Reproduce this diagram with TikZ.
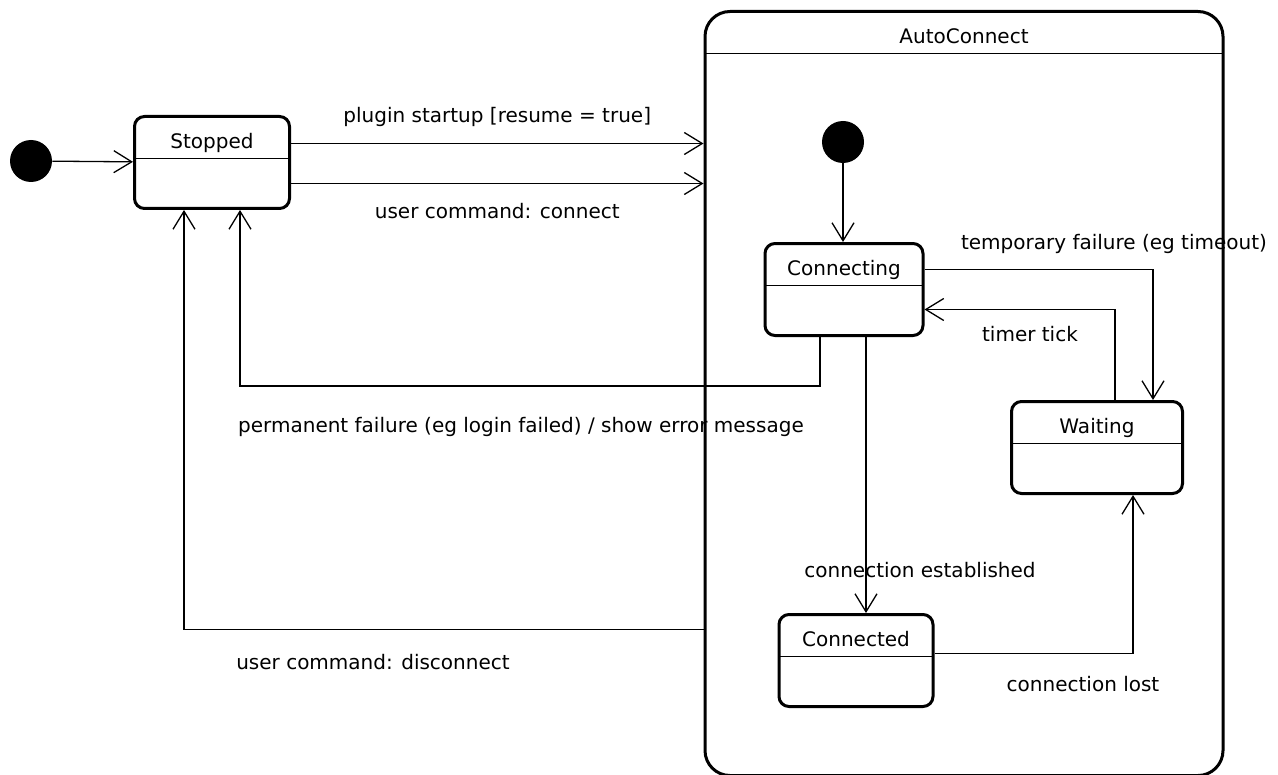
\documentclass[tikz,border=0pt]{standalone}
\usepackage{fontspec}
\setmainfont{DejaVu Sans}
\usetikzlibrary{arrows.meta}

\begin{document}
\begin{tikzpicture}[x=0.5pt, y=-0.5pt, font=\fontsize{10}{12}\selectfont,
  >={Straight Barb[length=9pt, width=11pt]},
  main/.style = {draw, line width=1.5pt, rounded corners=5pt, anchor=north, inner sep=0pt,
    minimum height=46pt, text height=16pt, text depth=30pt,
    path picture={\draw[line width=0.7pt] ([yshift=-21pt]path picture bounding box.north west) -- ([yshift=-21pt]path picture bounding box.north east);}},
  start/.style = {circle, fill, inner sep=0pt, minimum size=21pt},
  trans/.style = {->, line width=0.65pt}]
\useasboundingbox (0,0) rectangle (1278,775);
\node[start] (init) at (31,161) {};
\node[main, minimum width=77.5pt] (stopped) at (212,115) {Stopped};
\node[main, minimum width=259pt, minimum height=382pt, text depth=366pt, rounded corners=12.5pt] (auto) at (964,10) {AutoConnect};
\node[start] (init2) at (843,142) {};
\node[main, minimum width=79pt] (connecting) at (844,242) {Connecting};
\node[main, minimum width=85.5pt] (waiting) at (1097,400) {Waiting};
\node[main, minimum width=77pt] (connected) at (856,613) {Connected};
\draw[trans] (init) -- (stopped);
\draw[trans] ([yshift=9.5pt]stopped.east) -- ([yshift=9.5pt]stopped.east -| auto.west) node[midway, yshift=13.5pt] {plugin startup [resume = true]};
\draw[trans] ([yshift=-10.5pt]stopped.east) -- ([yshift=-10.5pt]stopped.east -| auto.west) node[midway, yshift=-14pt] {user command: connect};
\draw[trans] (init2) -- (init2 |- connecting.north);
\draw[trans] ([yshift=10pt]connecting.east) -| ([xshift=28pt]waiting.north) node[pos=0.5, xshift=-19.5pt, yshift=13pt] {temporary failure (eg timeout)};
\draw[trans] ([xshift=9pt]waiting.north) |- ([yshift=-10pt]connecting.east) node[pos=0.5, xshift=-42.5pt, yshift=-12.5pt] {timer tick};
\draw[trans] ([xshift=-12pt]connecting.south) -- ++(0,49) -| ([xshift=14pt]stopped.south) node[pos=0.25, xshift=-4.5pt, yshift=-20.5pt] {permanent failure (eg login failed) / show error message};
\draw[trans] ([xshift=11pt]connecting.south) -- ([xshift=11pt]connecting.south |- connected.north) node[pos=0.846, xshift=27pt] {connection established};
\draw[trans] ([yshift=3.5pt]connected.east) -| ([xshift=18pt]waiting.south) node[pos=0.5, xshift=-25pt, yshift=-15.5pt] {connection lost};
\draw[trans] ([yshift=-118pt]auto.west) -| ([xshift=-14pt]stopped.south) node[pos=0.5, xshift=94.5pt, yshift=-16.5pt] {user command: disconnect};
\end{tikzpicture}
\end{document}
